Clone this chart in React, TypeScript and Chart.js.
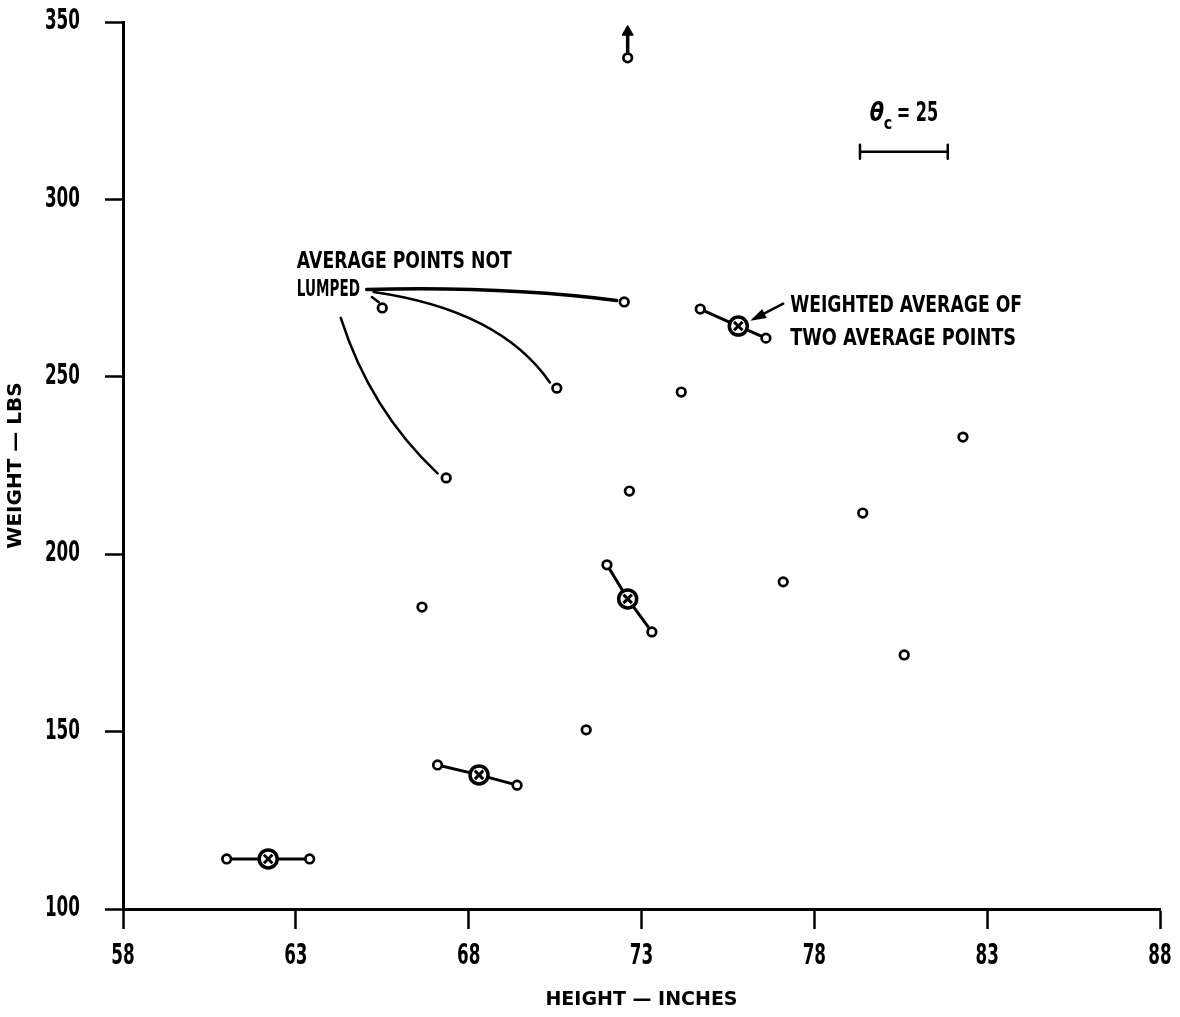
import React, { useEffect, useRef } from "react";
import { Chart, registerables } from "chart.js";

Chart.register(...registerables);

const FONT = '"DejaVu Sans", "Liberation Sans", sans-serif';

// Tick values
const xTickMin = 58;
const xTickMax = 88;
const xTickStep = 5;
const yTickMin = 100;
const yTickMax = 350;
const yTickStep = 50;

// Pairs of average points that were lumped (left, right of each pair)
const pairX = [61.0, 63.4, 67.1, 69.4, 72.0, 73.3, 74.7, 76.6];
const pairY = [114.1, 114.1, 140.6, 134.9, 197.0, 178.1, 269.1, 260.9];

// Weighted averages of each pair
const avgX = [62.2, 68.3, 72.6, 75.8];
const avgY = [114.1, 137.8, 187.4, 264.3];

// Average points not lumped
const singleX = [65.5, 72.5, 70.55, 74.15, 67.35, 72.65, 66.65, 71.4, 77.1, 79.4, 80.6, 82.3, 72.6];
const singleY = [269.4, 271.1, 246.8, 245.7, 221.5, 217.8, 185.1, 150.5, 192.2, 211.6, 171.6, 233.0, 339.9];

// Off-scale indicator (arrow above the top point)
const arrowX = [72.6, 72.6];
const arrowY = [341.3, 346.5];
const arrowHeadY = 347.2;

// Leader curves: start x,y / control x,y / end x,y (data units)
const leaderCurves = [
  [65.05, 274.6, 69.0, 275.6, 72.28, 271.5],
  [65.25, 273.9, 68.9, 268.8, 70.35, 248.4],
  [64.3, 266.6, 65.15, 240.6, 67.1, 222.8],
];

function drawNarrow(ctx: any, t: string, x: number, y: number, sx: number, align: string) {
  ctx.save();
  ctx.translate(x, y);
  ctx.scale(sx, 1);
  ctx.textAlign = align;
  ctx.fillText(t, 0, 0);
  ctx.restore();
}

const annotationPlugin = {
  id: "annotations",
  afterDatasetsDraw(chart: any) {
    const { ctx, scales, chartArea } = chart;
    const X = (v: number) => scales.x.getPixelForValue(v);
    const Y = (v: number) => scales.y.getPixelForValue(v);
    ctx.save();
    ctx.strokeStyle = "#000";
    ctx.fillStyle = "#000";
    ctx.lineCap = "round";
    ctx.lineJoin = "round";

    // tick labels (condensed lettering)
    ctx.font = `bold 28px ${FONT}`;
    ctx.textBaseline = "middle";
    scales.x.ticks.forEach((t: any) => {
      drawNarrow(ctx, String(t.value), X(t.value), chartArea.bottom + 48, 0.6, "center");
    });
    scales.y.ticks.forEach((t: any) => {
      drawNarrow(ctx, String(t.value), chartArea.left - 43, Y(t.value), 0.6, "right");
    });

    // leader curves
    leaderCurves.forEach((c, i) => {
      ctx.lineWidth = i === 0 ? 3.5 : 2.5;
      ctx.beginPath();
      ctx.moveTo(X(c[0]), Y(c[1]));
      ctx.quadraticCurveTo(X(c[2]), Y(c[3]), X(c[4]), Y(c[5]));
      ctx.stroke();
    });
    // short tick from LUMPED to nearby point
    ctx.lineWidth = 2.5;
    ctx.beginPath();
    ctx.moveTo(X(65.2), Y(272.5));
    ctx.lineTo(X(65.4), Y(271.0));
    ctx.stroke();

    // Labels
    ctx.textAlign = "left";
    ctx.textBaseline = "middle";
    ctx.font = `bold 23px ${FONT}`;
    const drawSpaced = (t: string, x: number, y: number, w: number) => {
      const m = ctx.measureText(t).width;
      ctx.save();
      ctx.translate(x, y);
      ctx.scale(w / m, 1);
      ctx.fillText(t, 0, 0);
      ctx.restore();
    };
    drawSpaced("AVERAGE POINTS NOT", X(63.03), Y(282.4), 215);
    drawSpaced("LUMPED", X(63.03), Y(274.5), 63);
    drawSpaced("WEIGHTED AVERAGE OF", X(77.3), Y(270.0), 232);
    drawSpaced("TWO AVERAGE POINTS", X(77.3), Y(260.6), 226);

    // arrow toward weighted average
    const ax0 = X(77.1), ay0 = Y(270.6);
    const ax1 = X(76.25), ay1 = Y(266.3);
    ctx.lineWidth = 2.5;
    ctx.beginPath();
    ctx.moveTo(ax0, ay0);
    ctx.lineTo(ax1, ay1);
    ctx.stroke();
    const ang = Math.atan2(ay1 - ay0, ax1 - ax0);
    ctx.beginPath();
    ctx.moveTo(ax1 + Math.cos(ang) * 4, ay1 + Math.sin(ang) * 4);
    ctx.lineTo(ax1 - Math.cos(ang) * 12 + Math.sin(ang) * 5, ay1 - Math.sin(ang) * 12 - Math.cos(ang) * 5);
    ctx.lineTo(ax1 - Math.cos(ang) * 12 - Math.sin(ang) * 5, ay1 - Math.sin(ang) * 12 + Math.cos(ang) * 5);
    ctx.closePath();
    ctx.fill();

    // theta_c = 25 scale bar
    const tx = X(79.6), ty = Y(324.0);
    ctx.font = `italic bold 26px ${FONT}`;
    drawNarrow(ctx, "\u03B8", tx, ty, 0.8, "left");
    ctx.font = `bold 18px ${FONT}`;
    drawNarrow(ctx, "c", tx + 14, ty + 10, 0.8, "left");
    ctx.font = `bold 26px ${FONT}`;
    drawNarrow(ctx, "= 25", tx + 27, ty, 0.62, "left");
    const bx0 = X(79.32), bx1 = X(81.86), by = Y(313.4);
    ctx.lineWidth = 2.5;
    ctx.beginPath();
    ctx.moveTo(bx0, by);
    ctx.lineTo(bx1, by);
    ctx.moveTo(bx0, by - 7);
    ctx.lineTo(bx0, by + 7);
    ctx.moveTo(bx1, by - 7);
    ctx.lineTo(bx1, by + 7);
    ctx.stroke();
    ctx.restore();
  },
};

export default function App() {
  const ref = useRef<HTMLCanvasElement | null>(null);

  useEffect(() => {
    if (!ref.current) return;
    const pts = (xs: number[], ys: number[]) => xs.map((x, i) => ({ x, y: ys[i] }));
    const groupLines = avgX.map((ax, i) => ({
      data: [
        { x: pairX[2 * i], y: pairY[2 * i] },
        { x: ax, y: avgY[i] },
        { x: pairX[2 * i + 1], y: pairY[2 * i + 1] },
      ],
      showLine: true,
      borderColor: "#000",
      borderWidth: 3,
      pointRadius: 0,
      order: 5,
    }));

    const chart = new Chart(ref.current, {
      type: "scatter",
      data: {
        datasets: [
          ...groupLines,
          {
            data: pts(arrowX, arrowY),
            showLine: true,
            borderColor: "#000",
            borderWidth: 3.5,
            pointRadius: 0,
            order: 5,
          },
          {
            data: [{ x: arrowX[0], y: arrowHeadY }],
            pointStyle: "triangle",
            pointRadius: 6.5,
            backgroundColor: "#000",
            borderColor: "#000",
            borderWidth: 1,
            order: 4,
          },
          {
            data: pts(pairX, pairY),
            pointStyle: "circle",
            pointRadius: 4.3,
            backgroundColor: "#fff",
            borderColor: "#000",
            borderWidth: 2.7,
            order: 2,
          },
          {
            data: pts(singleX, singleY),
            pointStyle: "circle",
            pointRadius: 4.3,
            backgroundColor: "#fff",
            borderColor: "#000",
            borderWidth: 2.7,
            order: 2,
          },
          {
            data: pts(avgX, avgY),
            pointStyle: "circle",
            pointRadius: 9,
            backgroundColor: "#fff",
            borderColor: "#000",
            borderWidth: 3.5,
            order: 1,
          },
          {
            data: pts(avgX, avgY),
            pointStyle: "crossRot",
            pointRadius: 6,
            borderColor: "#000",
            borderWidth: 3,
            order: 0,
          },
        ],
      },
      options: {
        responsive: false,
        animation: false,
        layout: { padding: { top: 22, right: 20, left: 0, bottom: 0 } },
        plugins: {
          legend: { display: false },
          tooltip: { enabled: false },
        },
        scales: {
          x: {
            type: "linear",
            min: xTickMin,
            max: xTickMax,
            afterFit: (s: any) => {
              s.height = 108;
            },
            ticks: { stepSize: xTickStep, display: false },
            grid: {
              drawOnChartArea: false,
              drawTicks: true,
              tickLength: 20,
              tickWidth: 2.5,
              tickColor: "#000",
            },
            border: { display: true, color: "#000", width: 3 },
            title: {
              display: true,
              text: "HEIGHT \u2014 INCHES",
              color: "#000",
              padding: { top: 0, bottom: 6 },
              font: { family: FONT, size: 19, weight: "bold" },
            },
          },
          y: {
            type: "linear",
            min: yTickMin,
            max: yTickMax,
            afterFit: (s: any) => {
              s.width = 123;
            },
            ticks: { stepSize: yTickStep, display: false },
            grid: {
              drawOnChartArea: false,
              drawTicks: true,
              tickLength: 18,
              tickWidth: 2.5,
              tickColor: "#000",
            },
            border: { display: true, color: "#000", width: 3 },
            title: {
              display: true,
              text: "WEIGHT \u2014 LBS",
              color: "#000",
              padding: { top: 4, bottom: 0 },
              font: { family: FONT, size: 20, weight: "bold" },
            },
          },
        },
      },
      plugins: [annotationPlugin],
    } as any);
    return () => chart.destroy();
  }, []);

  return (
    <div style={{ position: "absolute", left: 0, top: 0, width: 1180, height: 1017, background: "#fff" }}>
      <canvas ref={ref} width={1180} height={1017} style={{ display: "block" }} />
    </div>
  );
}
